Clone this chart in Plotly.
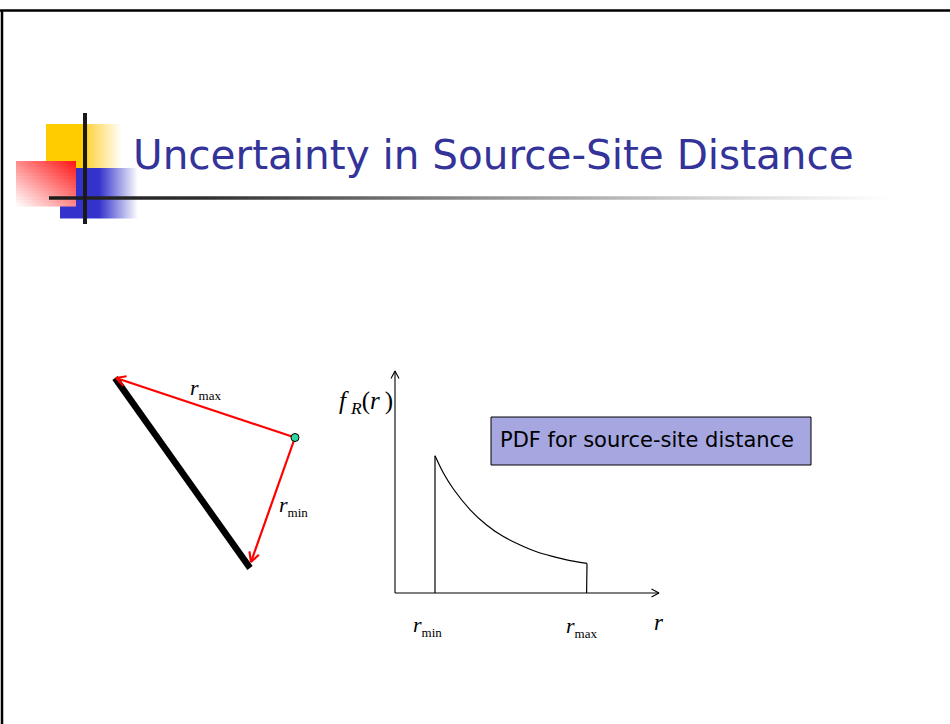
import math
import plotly.graph_objects as go

W, H = 950, 724

# ---------------- data ----------------
title_text = "Uncertainty in Source-Site Distance"
box_text = "PDF for source-site distance"

# PDF of source-site distance f_R(r) (arbitrary units)
r_vals = [1.0, 1.21, 1.46, 1.88, 2.29, 2.71, 3.13, 3.54, 3.96, 4.38, 4.8]
f_vals = [3.43, 3.0, 2.6, 2.08, 1.70, 1.41, 1.20, 1.03, 0.91, 0.81, 0.74]
r_min = 1.0
r_max = 4.79
r_axis_max = 6.6
f_axis_max = 5.55

# geometry sketch (page units)
fault_x = [115, 250]
fault_y = [378, 568]
site_x = [295]
site_y = [437.5]
rmax_tip = [116, 378]
rmin_tip = [251, 562]

# ---------------- styles ----------------
TITLE_COLOR = "#333399"
SERIF = "Liberation Serif"
SANS = "DejaVu Sans"

# PDF sub-plot placement (origin in page pixels, 40 px per unit)
PX = 40.0
OX, OY = 395.0, 593.0
XR = [-0.5, 7.2]
YR = [-0.5, 6.0]

fig = go.Figure()


def grad_rect(x0, x1, y0, y1, scale):
    fig.add_trace(go.Scatter(
        x=[x0, x1, x1, x0, x0], y=[y0, y0, y1, y1, y0],
        mode="lines", fill="toself", line=dict(width=0),
        fillgradient=dict(type="horizontal", colorscale=scale, start=x0, stop=x1),
        hoverinfo="skip", showlegend=False, xaxis="x", yaxis="y"))


def vhead(tip, tail, length, half):
    dx, dy = tip[0] - tail[0], tip[1] - tail[1]
    d = math.hypot(dx, dy)
    ux, uy = dx / d, dy / d
    nx, ny = -uy, ux
    bx, by = tip[0] - length * ux, tip[1] - length * uy
    return ([bx + half * nx, tip[0], bx - half * nx],
            [by + half * ny, tip[1], by - half * ny])


def arrow(tail, tip, length, half, color, width, xa="x", ya="y"):
    hx, hy = vhead(tip, tail, length, half)
    fig.add_trace(go.Scatter(
        x=[tail[0], tip[0], None] + hx, y=[tail[1], tip[1], None] + hy,
        mode="lines", line=dict(color=color, width=width),
        hoverinfo="skip", showlegend=False, xaxis=xa, yaxis=ya))


# ---- logo (decoration) ----
grad_rect(46, 122, 124, 168.5,
          [[0, "#FFCC00"], [0.54, "#FFCC00"], [0.56, "#FFD54A"], [1, "#FFFFFF"]])
grad_rect(60, 138, 168, 218.5,
          [[0, "#3333CC"], [0.5, "#3333CC"], [1, "#FFFFFF"]])
n_bands = 15
ry0, ry1 = 161, 206
for k in range(n_bands):
    ya = ry0 + (ry1 - ry0) * k / n_bands
    yb = ry0 + (ry1 - ry0) * (k + 1) / n_bands + 0.4
    v = 1 - (k + 0.5) / n_bands

    def mix(t):
        t = max(0.0, min(1.0, t))
        g = int(round(255 - (255 - 20) * t))
        return f"rgb(255,{g},{g})"
    grad_rect(16, 76, ya, yb, [[0, mix(v / 2)], [1, mix((1 + v) / 2)]])

grad_rect(49, 890, 196.3, 199.7,
          [[0, "#1c1c1c"], [0.18, "#2e2e2e"], [0.5, "#8c8c8c"], [0.78, "#d2d2d2"], [1, "#FFFFFF"]])

# ---- fault line, site and distance arrows ----
fig.add_trace(go.Scatter(x=fault_x, y=fault_y, mode="lines",
                         line=dict(color="black", width=6.5),
                         hoverinfo="skip", showlegend=False, xaxis="x", yaxis="y"))
site = [site_x[0], site_y[0]]
arrow(site, rmax_tip, 9.5, 5, "#FF0000", 2.2)
arrow(site, rmin_tip, 9.5, 5, "#FF0000", 2.2)
fig.add_trace(go.Scatter(x=site_x, y=site_y, mode="markers",
                         marker=dict(size=8, color="#2FD6A0", line=dict(color="black", width=1)),
                         hoverinfo="skip", showlegend=False, xaxis="x", yaxis="y"))

# ---- PDF plot ----
arrow([0, 0], [0, f_axis_max], 7.5 / PX, 4 / PX, "black", 1.1, "x2", "y2")
arrow([0, 0], [r_axis_max, 0], 7.5 / PX, 4 / PX, "black", 1.1, "x2", "y2")
fig.add_trace(go.Scatter(x=r_vals, y=f_vals, mode="lines",
                         line=dict(color="black", width=1.2, shape="spline"),
                         hoverinfo="skip", showlegend=False, xaxis="x2", yaxis="y2"))
fig.add_trace(go.Scatter(x=[r_min, r_min, None, r_max, r_vals[-1]],
                         y=[0, f_vals[0], None, 0, f_vals[-1]],
                         mode="lines", line=dict(color="black", width=1.2),
                         hoverinfo="skip", showlegend=False, xaxis="x2", yaxis="y2"))

annotations = []


def label(x, y, text, size=22, family=SERIF, color="black", xanchor="left"):
    annotations.append(dict(x=x, y=y, xref="x", yref="y", text=text, showarrow=False,
                            xanchor=xanchor, yanchor="middle", borderpad=0, borderwidth=0,
                            font=dict(family=family, size=size, color=color)))


SUB = "<sub><span style='font-size:13px'>%s</span></sub>"
TS = "\u2009"
label(190, 389, "<i>r</i>" + SUB % "max")
label(279, 506, "<i>r</i>" + SUB % "min")
label(339, 402, "<i>f</i>" + TS + "<sub><i>R</i></sub>(<i>r</i>" + TS + ")", size=25)
label(413, 626, "<i>r</i>" + SUB % "min")
label(566, 627, "<i>r</i>" + SUB % "max")
label(654, 622, "<i>r</i>", size=23)

label(133, 155, title_text, size=40.5, family=SANS, color=TITLE_COLOR)
label(500, 440, box_text, size=21, family=SANS)

shapes = [
    dict(type="line", xref="x", yref="y", x0=0, x1=W, y0=10.5, y1=10.5, line=dict(color="black", width=2.5)),
    dict(type="line", xref="x", yref="y", x0=2, x1=2, y0=10, y1=H, line=dict(color="black", width=2.5)),
    dict(type="line", xref="x", yref="y", x0=85, x1=85, y0=113, y1=224, line=dict(color="#1a1a1a", width=4)),
    dict(type="rect", xref="x", yref="y", x0=491, x1=811, y0=417, y1=465,
         fillcolor="#A6A6E0", line=dict(color="black", width=1), layer="below"),
]

fig.update_layout(
    width=W, height=H, margin=dict(l=0, r=0, t=0, b=0),
    paper_bgcolor="white", plot_bgcolor="rgba(0,0,0,0)",
    xaxis=dict(range=[0, W], domain=[0, 1], visible=False, fixedrange=True),
    yaxis=dict(range=[H, 0], domain=[0, 1], visible=False, fixedrange=True),
    xaxis2=dict(range=XR, domain=[(OX + XR[0] * PX) / W, (OX + XR[1] * PX) / W], visible=False,
                anchor="y2", fixedrange=True),
    yaxis2=dict(range=YR, domain=[(H - (OY - YR[0] * PX)) / H, (H - (OY - YR[1] * PX)) / H],
                visible=False, anchor="x2", fixedrange=True),
    annotations=annotations, shapes=shapes, showlegend=False,
)

fig.write_html("out.html", config={"displayModeBar": False},
               post_script="document.body.style.margin='0';document.body.style.overflow='hidden';")
